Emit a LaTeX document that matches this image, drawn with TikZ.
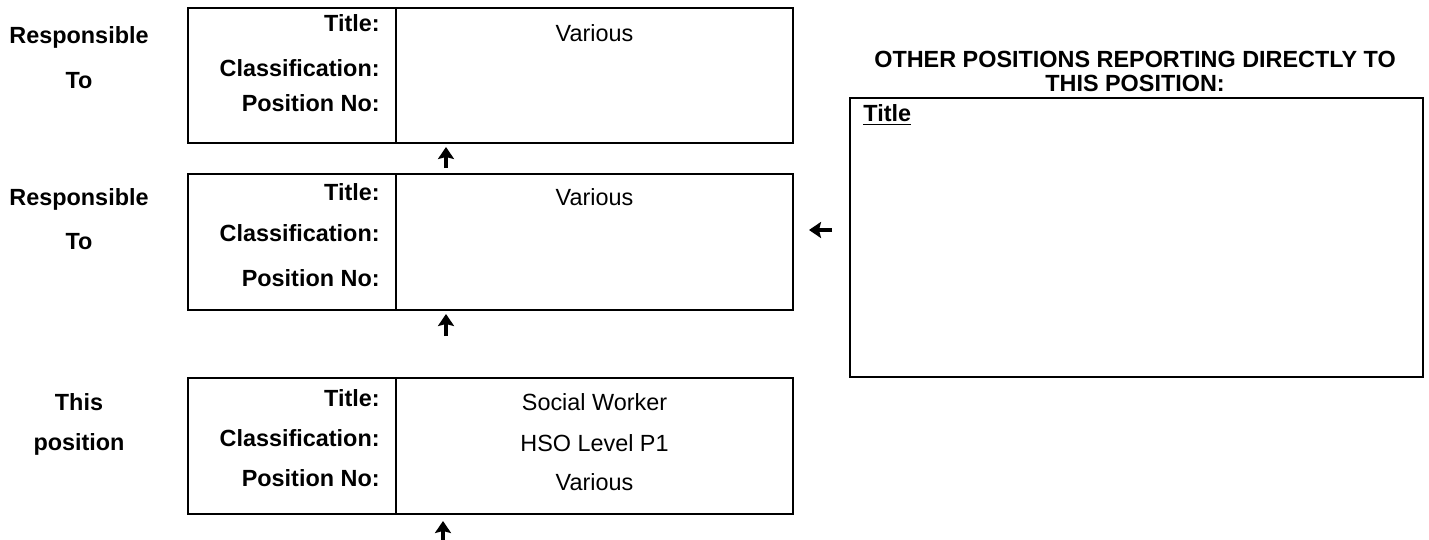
\documentclass[tikz,border=0pt]{standalone}
\usepackage{fontspec}
\setmainfont{Liberation Sans}
\usetikzlibrary{positioning}
\usetikzlibrary{arrows.meta}

\newcommand\formfont{\fontsize{11.7pt}{14pt}\selectfont}

\tikzset{
  side/.style={font=\formfont\bfseries, anchor=base},
  field/.style={font=\formfont\bfseries, anchor=base east},
  entry/.style={font=\formfont, anchor=base},
  reportarrow/.style={line width=2pt, -{Stealth[width=8pt,length=6pt,inset=1pt]}},
  frame/.style={line width=1.2pt},
}

\begin{document}
\begin{tikzpicture}[x=0.5pt,y=-0.5pt,inner sep=0pt]
  \useasboundingbox (0,0) rectangle (1429,540);

  % the three position boxes
  \foreach \t/\b in {8/143, 174/310, 378/514} {
    \draw[frame] (188,\t) rectangle (793,\b);
    \draw[line width=1.1pt] (396,\t) -- (396,\b);
  }

  % left hand labels
  \node[side] (resp1) at (79,44) {Responsible};
  \node[side] (to1) at (79,89) {To};
  \node[side] (resp2) at (79,205) {Responsible};
  \node[side] (to2) at (79,249) {To};
  \node[side] (this) at (79,410) {This};
  \node[side] (pos) at (79,450) {position};

  % box 1
  \node[field] (title1) at (380,32) {Title:};
  \node[field] (class1) at (380,77) {Classification:};
  \node[field] (no1) at (380,112) {Position No:};
  \node[entry] (val1) at (594.5,42) {Various};

  % box 2
  \node[field] (title2) at (380,200) {Title:};
  \node[field] (class2) at (380,241) {Classification:};
  \node[field] (no2) at (380,286) {Position No:};
  \node[entry] (val2) at (594.5,205) {Various};

  % this position
  \node[field] (title3) at (380,406) {Title:};
  \node[field] (class3) at (380,446) {Classification:};
  \node[field] (no3) at (380,486) {Position No:};
  \node[entry] (val3) at (594.5,410) {Social Worker};
  \node[entry] (lvl3) at (594.5,451) {HSO Level P1};
  \node[entry] (num3) at (594.5,490) {Various};

  % arrows
  \coordinate (up1a) at (446,168); \coordinate (up1b) at (446,147);
  \coordinate (up2a) at (446,336); \coordinate (up2b) at (446,314);
  \coordinate (up3a) at (443,540); \coordinate (up3b) at (443,521);
  \coordinate (lefta) at (832,230); \coordinate (leftb) at (809,230);
  \draw[reportarrow] (up1a) -- (up1b);
  \draw[reportarrow] (up2a) -- (up2b);
  \draw[reportarrow] (up3a) -- (up3b);
  \draw[reportarrow] (lefta) -- (leftb);

  % other positions
  \node[side] (head1) at (1135,68) {OTHER POSITIONS REPORTING DIRECTLY TO};
  \node[side] (head2) at (1135,91) {THIS POSITION:};
  \draw[frame] (850,98) rectangle (1423,377);
  \node[side, anchor=base west] (others) at (863,121) {\underline{Title}};
\end{tikzpicture}
\end{document}
